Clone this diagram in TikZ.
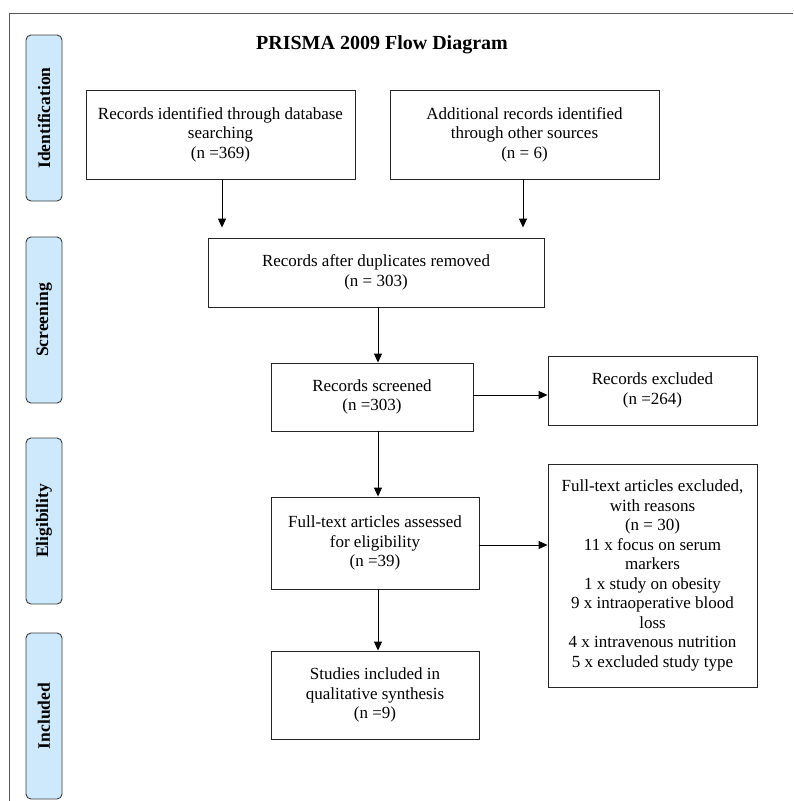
\documentclass[tikz,border=0pt]{standalone}
\usepackage{fontspec}
\setmainfont{Liberation Serif}
\usetikzlibrary{arrows.meta,calc}
\definecolor{framegray}{RGB}{85,85,85}
\definecolor{labelblue}{RGB}{206,232,252}
\definecolor{labeledge}{RGB}{60,60,60}
\tikzset{
  box/.style={draw=black!85, line width=0.9pt, fill=white, inner sep=0pt, align=center,
    font=\fontsize{17}{19.5}\selectfont},
  stage/.style={draw=labeledge, line width=0.9pt, fill=labelblue, rounded corners=5pt,
    inner sep=0pt, rotate=90, minimum width=166pt, minimum height=36pt,
    font=\fontsize{17.5}{20}\selectfont\bfseries},
  arr/.style={draw=black, line width=0.9pt, -{Triangle[width=8pt,length=9pt]}},
}
\begin{document}
\begin{tikzpicture}[x=1pt,y=-1pt]
\useasboundingbox (0,0) rectangle (793,801);
\fill[white] (0,0) rectangle (793,801);
% frame
\draw[framegray, line width=0.9pt] (793,13) -- (9,13) -- (9,801);
% title
\node[font=\fontsize{20}{24}\selectfont\bfseries] (title) at (382,45) {PRISMA 2009 Flow Diagram};
% stage labels
\node[stage] (sid) at (44,118) {Identification};
\node[stage] (sscr) at (44,320) {Screening};
\node[stage] (selig) at (44,521) {Eligibility};
\node[stage] (sinc) at (44,716) {Included};
% boxes
\node[box, minimum width=269pt, minimum height=89pt] (b1) at (220.5,134.5)
  {Records identified through database\\searching\\(n =369)};
\node[box, minimum width=269pt, minimum height=89pt] (b2) at (524.5,134.5)
  {Additional records identified\\through other sources\\(n = 6)};
\node[box, minimum width=336pt, minimum height=69pt] (b3) at (376,272.5)
  {Records after duplicates removed\\(n = 303)};
\node[box, minimum width=202pt, minimum height=68pt] (b4) at (372,397)
  {Records screened\\(n =303)};
\node[box, minimum width=209pt, minimum height=69pt] (b5) at (652.5,390.5)
  {Records excluded\\(n =264)};
\node[box, minimum width=208pt, minimum height=92pt] (b6) at (375,543)
  {Full-text articles assessed\\for eligibility\\(n =39)};
\node[box, minimum width=209pt, minimum height=223pt] (b7) at (652.5,575.5)
  {Full-text articles excluded,\\with reasons\\(n = 30)\\11 x focus on serum\\markers\\1 x study on obesity\\9 x intraoperative blood\\loss\\4 x intravenous nutrition\\5 x excluded study type};
\node[box, minimum width=208pt, minimum height=88pt] (b8) at (375,695)
  {Studies included in\\qualitative synthesis\\(n =9)};
% connectors
\draw[arr, shorten >=10pt] ($(b1.south)+(1.5,0)$) -- ($(b1.south |- b3.north)+(1.5,0)$);
\draw[arr, shorten >=10pt] ($(b2.south)+(-1.5,0)$) -- ($(b2.south |- b3.north)+(-1.5,0)$);
\draw[arr] ($(b3.south)+(2,0)$) -- ($(b3.south |- b4.north)+(2,0)$);
\draw[arr] ($(b4.east)+(0,-2)$) -- ($(b4.east -| b5.west)+(0,-2)$);
\draw[arr] ($(b4.south)+(6,0)$) -- ($(b4.south |- b6.north)+(6,0)$);
\draw[arr] ($(b6.east)+(0,2)$) -- ($(b6.east -| b7.west)+(0,2)$);
\draw[arr] ($(b6.south)+(3,0)$) -- ($(b6.south |- b8.north)+(3,0)$);
\end{tikzpicture}
\end{document}
